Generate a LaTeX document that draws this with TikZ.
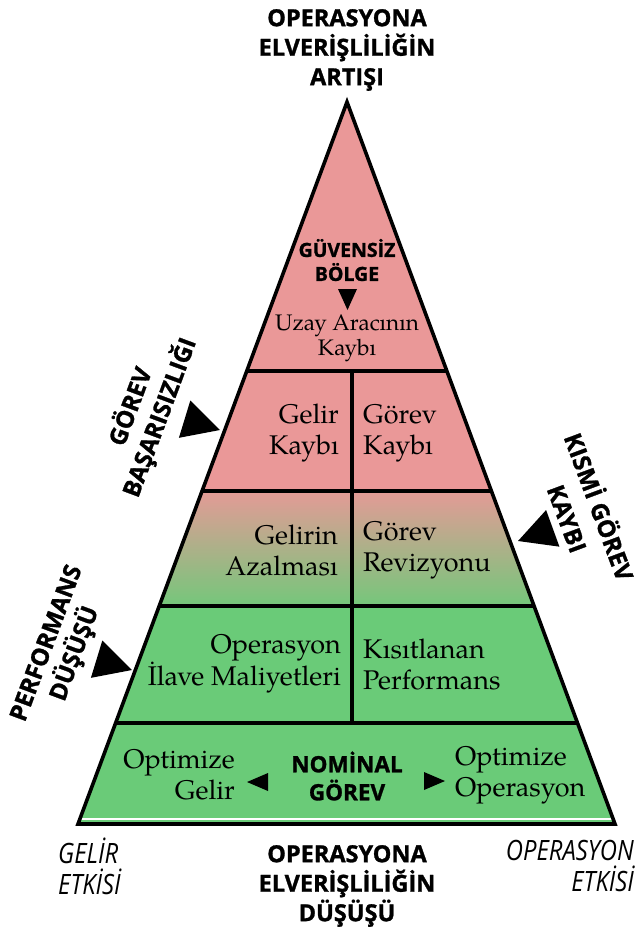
\documentclass[tikz,border=0pt]{standalone}
\usepackage{fontspec}
\setmainfont{TeX Gyre Pagella}
\newfontfamily\hdfont{Open Sans}[BoldFeatures={FakeBold=1.2}]
\newfontfamily\condfont{Open Sans}[FakeStretch=0.85]
\usetikzlibrary{calc}
\definecolor{pinkc}{RGB}{234,152,152}
\definecolor{greenc}{RGB}{106,203,120}
\tikzset{
  edge/.style={draw=black, line width=3.6pt},
  title/.style={font=\hdfont\bfseries\fontsize{23.5}{29.5}\selectfont, align=center, inner sep=0pt},
  side/.style={font=\hdfont\bfseries\fontsize{24}{31}\selectfont, align=center, inner sep=0pt},
  zone/.style={font=\hdfont\bfseries\fontsize{19.5}{24}\selectfont, align=center, inner sep=0pt},
  cellR/.style={font=\fontsize{27}{31}\selectfont, align=right, inner sep=0pt, anchor=east},
  cellL/.style={font=\fontsize{27}{31}\selectfont, align=left, inner sep=0pt, anchor=west},
  topcell/.style={font=\fontsize{22.5}{25}\selectfont, align=center, inner sep=0pt},
  effect/.style={font=\condfont\itshape\fontsize{28}{31}\selectfont, inner sep=0pt},
  tri/.style={fill=black}
}
\begin{document}
\begin{tikzpicture}[x=1pt,y=-1pt]
\useasboundingbox (0,0) rectangle (636,934);
\coordinate (A) at (347,102);
\coordinate (BL) at (78,824);
\coordinate (BR) at (615,824);
\coordinate (L1) at ($(A)!0.3726!(BL)$);
\coordinate (R1) at ($(A)!0.3726!(BR)$);
\coordinate (L2) at ($(A)!0.5388!(BL)$);
\coordinate (R2) at ($(A)!0.5388!(BR)$);
\coordinate (L3) at ($(A)!0.6981!(BL)$);
\coordinate (R3) at ($(A)!0.6981!(BR)$);
\coordinate (L4) at ($(A)!0.8601!(BL)$);
\coordinate (R4) at ($(A)!0.8601!(BR)$);
\coordinate (D1) at (352,371);
\coordinate (D2) at (352,723);
% fills
\begin{scope}
  \clip (A) -- (BL) -- (BR) -- cycle;
  \fill[pinkc] (0,90) rectangle (636,491);
  \shade[top color=pinkc!95!greenc, bottom color=greenc!92!pinkc] (0,491) rectangle (636,606);
  \fill[greenc] (0,606) rectangle (636,830);
  \draw[white, line width=1.5pt] (0,819) -- (636,819);
\end{scope}
% lines
\draw[edge] (L1) -- (R1);
\draw[edge] (L2) -- (R2);
\draw[edge] (L3) -- (R3);
\draw[edge] (L4) -- (R4);
\draw[edge] (D1) -- (D2);
\draw[edge, line join=miter] (A) -- (BL) -- (BR) -- cycle;
% titles
\node[title] (ttop) at (347,50) {OPERASYONA\\ELVERİŞLİLİĞİN\\ARTIŞI};
\node[title] (tbot) at (347,886) {OPERASYONA\\ELVERİŞLİLİĞİN\\DÜŞÜŞÜ};
\node[effect, align=left, anchor=west] (gel) at (58,866) {GELİR\\ETKİSİ};
\node[effect, align=right, anchor=east] (ope) at (634,866) {OPERASYON\\ETKİSİ};
% top zone
\node[zone] (guv) at (347,260) {GÜVENSİZ\\BÖLGE};
\fill[tri] (338,289) -- (357,289) -- (347.5,310) -- cycle;
\node[topcell] (uzay) at (347,338) {Uzay Aracının\\Kaybı};
% cells
\node[cellR] (gk) at (339,433) {Gelir\\Kaybı};
\node[cellL] (gok) at (363,433) {Görev\\Kaybı};
\node[cellR] (ga) at (338,550) {Gelirin\\Azalması};
\node[cellL] (gr) at (363,550) {Görev\\Revizyonu};
\node[cellR] (om) at (341,664) {Operasyon\\İlave Maliyetleri};
\node[cellL] (kp) at (363,664) {Kısıtlanan\\Performans};
\node[cellR] (og) at (235,775) {Optimize\\Gelir};
\node[cellL] (oo) at (455,775) {Optimize\\Operasyon};
\node[zone, font=\hdfont\bfseries\fontsize{22.5}{28}\selectfont] (nom) at (347,776) {NOMİNAL\\GÖREV};
\fill[tri] (247,782) -- (268,773) -- (268,791) -- cycle;
\fill[tri] (445,781) -- (424,772) -- (424,790) -- cycle;
% side labels
\node[side, rotate=69.6] (gb) at (145,412) {GÖREV\\BAŞARISIZLIĞI};
\fill[tri, shift={(220,430)}, rotate=-17] (0,0) -- (-37,-19.5) -- (-37,19.5) -- cycle;
\node[side, rotate=-69.6, font=\hdfont\bfseries\fontsize{24}{34}\selectfont] (kg) at (585,512) {KISMİ GÖREV\\KAYBI};
\fill[tri, shift={(518,541)}, rotate=200] (0,0) -- (-37,-19.5) -- (-37,19.5) -- cycle;
\node[side, rotate=69.6, font=\hdfont\bfseries\fontsize{24}{30}\selectfont] (pd) at (62,649) {PERFORMANS\\DÜŞÜŞÜ};
\fill[tri, shift={(132,670)}, rotate=-17] (0,0) -- (-37,-19.5) -- (-37,19.5) -- cycle;
\end{tikzpicture}
\end{document}
